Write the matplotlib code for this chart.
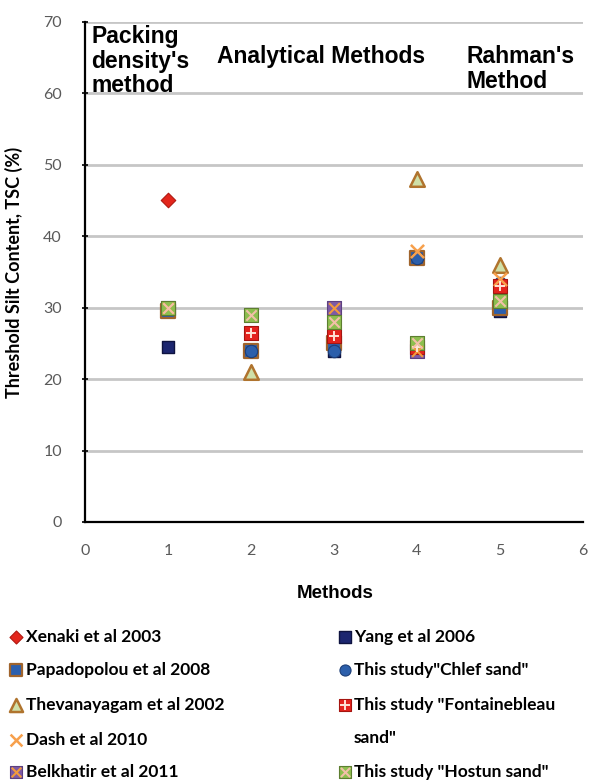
import numpy as np
import matplotlib
matplotlib.use('Agg')
import matplotlib.pyplot as plt

# method number on the x axis
methods = [1, 2, 3, 4, 5]
nan = np.nan

# threshold silt content (%) read per study
xenaki = [45, nan, nan, nan, nan]
yang = [24.5, 24, 24, 37, 29.5]
papadopolou = [29.5, 24, 25, 37, 30]
thevanayagam = [nan, 21, nan, 48, 36]
dash = [nan, nan, nan, 38, 34]
belkhatir = [30, nan, 30, 24, nan]
chlef = [nan, 24, 24, 37, 33.5]
fontainebleau = [nan, 26.5, 26, 24.5, 33]
hostun = [30, 29, 28, 25, 31]

y_ticks = [0, 10, 20, 30, 40, 50, 60, 70]
x_ticks = [0, 1, 2, 3, 4, 5, 6]

# marker styles: list of overlaid layers (marker, size, face, edge, lw)
styles = {
    'xenaki': [('D', 55, '#e3261c', '#b01810', 0.8)],
    'yang': [('s', 85, '#1c2670', '#0e1340', 1.0)],
    'papadopolou': [('s', 95, '#2b5fae', '#a0642c', 1.6)],
    'thevanayagam': [('^', 110, '#cfe0a8', '#b0742e', 1.8)],
    'dash': [('x', 90, '#f7a04c', '#f7a04c', 1.8)],
    'belkhatir': [('s', 95, '#7d5aa6', '#5c3f80', 0.8), ('x', 60, '#f39a3b', '#f39a3b', 1.5)],
    'chlef': [('o', 80, '#2c5fab', '#1d3f78', 0.8)],
    'fontainebleau': [('s', 95, '#e3231d', '#a51510', 0.8), ('+', 60, '#ffe3d6', '#ffe3d6', 1.4)],
    'hostun': [('s', 95, '#8dbf4f', '#5d7e30', 0.8), ('x', 55, '#f2c0a8', '#f2c0a8', 1.5)],
}

series = [
    ('xenaki', 'Xenaki et al 2003', xenaki),
    ('papadopolou', 'Papadopolou et al 2008', papadopolou),
    ('thevanayagam', 'Thevanayagam et al 2002', thevanayagam),
    ('dash', 'Dash et al 2010', dash),
    ('belkhatir', 'Belkhatir et al 2011', belkhatir),
    ('yang', 'Yang et al 2006', yang),
    ('chlef', 'This study"Chlef sand"', chlef),
    ('fontainebleau', 'This study "Fontainebleau\nsand"', fontainebleau),
    ('hostun', 'This study "Hostun sand"', hostun),
]

# drawing order (later on top)
draw_order = ['yang', 'papadopolou', 'chlef', 'belkhatir', 'thevanayagam', 'dash',
              'xenaki', 'fontainebleau', 'hostun']


def draw_marker(ax, key, x, y, scale=1.0, **kw):
    for m, s, fc, ec, lw in styles[key]:
        if m in ('x', '+'):
            ax.scatter(x, y, marker=m, s=s * scale, c=fc, linewidths=lw, zorder=5, **kw)
        else:
            ax.scatter(x, y, marker=m, s=s * scale, c=fc, edgecolors=ec, linewidths=lw, zorder=4, **kw)


fig = plt.figure(figsize=(5.93, 7.82), dpi=100)
ax = fig.add_axes([0.143, 0.3325, 0.84, 0.6395])

data = {k: v for k, _, v in series}
for key in draw_order:
    draw_marker(ax, key, methods, data[key])

ax.set_xlim(0, 6)
ax.set_ylim(0, 70)
ax.set_xticks(x_ticks)
ax.set_yticks(y_ticks)
ax.grid(axis='y', color='#c6c6c6', linewidth=2)
ax.set_axisbelow(True)
for s in ['top', 'right']:
    ax.spines[s].set_visible(False)
for s in ['left', 'bottom']:
    ax.spines[s].set_linewidth(1.6)
    ax.spines[s].set_color('black')
ax.tick_params(axis='y', direction='inout', length=5, width=1.2, labelsize=11.5,
               labelcolor='#5a5a5a', pad=14)
ax.tick_params(axis='x', length=0, labelsize=11.5, labelcolor='#5a5a5a', pad=16)
for lab in ax.get_xticklabels() + ax.get_yticklabels():
    lab.set_family('Lato')

ax.set_ylabel('Threshold Silt Content, TSC (%)', fontsize=13, fontweight='bold',
              family='Lato')
ax.yaxis.set_label_coords(-0.124, 0.5)
ax.set_xlabel('Methods', fontsize=13.5, fontweight='bold', family='Liberation Sans')
ax.xaxis.set_label_coords(0.502, -0.126)

# method group headings
head = dict(fontsize=16.5, fontweight='bold', family='Liberation Sans', va='top',
            linespacing=1.1)
ax.text(0.08, 69.6, "Packing\ndensity's\nmethod", ha='left', **head)
ax.text(2.84, 66.8, 'Analytical Methods', ha='center', **head)
ax.text(4.6, 66.8, "Rahman's\nMethod", ha='left', **head)

# legend below the plot, two columns
lax = fig.add_axes([0, 0, 1, 0.22])
lax.set_xlim(0, 593)
lax.set_ylim(172, 0)
lax.axis('off')
rows = [27, 60, 95, 130, 162]
left_col = series[:5]
right_col = series[5:]
right_rows = [27, 60, 95, 162]
txt = dict(fontsize=12.5, fontweight='bold', family='Lato', clip_on=False)
for (key, label, _), r in zip(left_col, rows):
    draw_marker(lax, key, [16], [r], scale=0.8, clip_on=False)
    lax.text(26, r, label, va='center', **txt)
for (key, label, _), r in zip(right_col, right_rows):
    draw_marker(lax, key, [345], [r], scale=0.8, clip_on=False)
    if '\n' in label:
        lax.text(354, r - 8, label, va='top', linespacing=2.3, **txt)
    else:
        lax.text(354, r, label, va='center', **txt)

fig.savefig('out.png', dpi=100)
